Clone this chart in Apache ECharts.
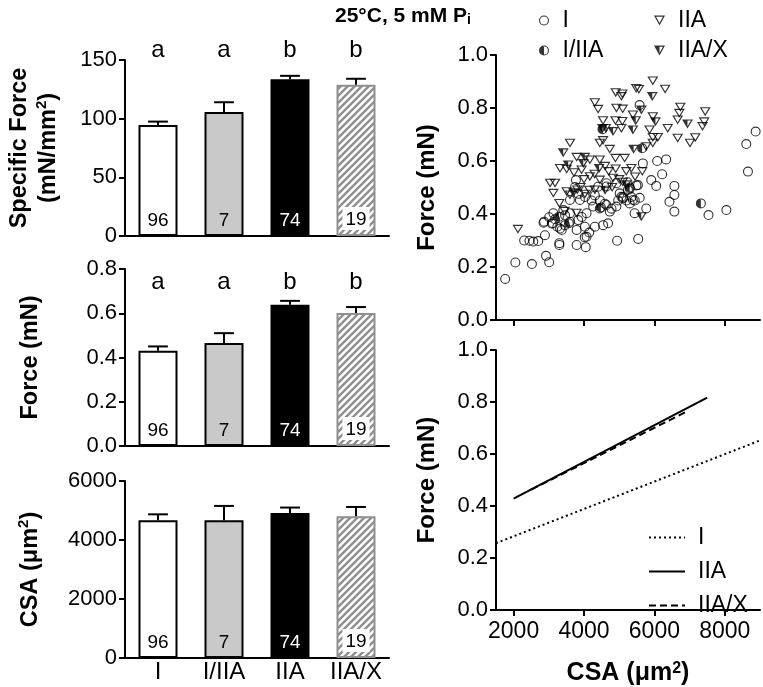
<!DOCTYPE html>
<html>
<head>
<meta charset="utf-8">
<title>force vs fibre type</title>
<script src="https://cdn.jsdelivr.net/npm/echarts@6.0.0/dist/echarts.min.js"></script>
<style>
html,body{margin:0;padding:0;background:#fff;}
#chart{width:763px;height:687px;}
</style>
</head>
<body>
<div id="chart"></div>
<script>
// bar panels
var fibreTypes = ['I','I/IIA','IIA','IIA/X'];
var nFibres = [96,7,74,19];
var sfMean = [94.5,105.7,133.5,129];
var sfSem = [3,8.3,3,5];
var sfSig = ['a','a','b','b'];
var forceMean = [0.431,0.465,0.638,0.601];
var forceSem = [0.019,0.045,0.018,0.027];
var forceSig = ['a','a','b','b'];
var csaMean = [4670,4670,4915,4805];
var csaSem = [200,485,185,315];

// scatter panel [CSA, force]
var ptsI = [
	[1760,0.155],[2050,0.217],[2520,0.211],[2920,0.242],[3010,0.218],[2300,0.300],[2450,0.299],[2560,0.296],
	[2700,0.298],[2890,0.320],[2850,0.367],[3300,0.290],[3300,0.283],[3790,0.283],[4050,0.275],[4020,0.312],
	[4150,0.330],[4940,0.299],[5540,0.306],[2867,0.371],[3009,0.388],[3113,0.365],[3178,0.380],[3243,0.352],
	[3367,0.340],[3460,0.358],[3602,0.371],[3602,0.403],[3791,0.340],[3836,0.377],[4025,0.352],[4073,0.314],
	[4308,0.352],[4542,0.358],[4684,0.365],[4073,0.403],[4260,0.428],[4449,0.421],[4638,0.434],[4732,0.409],
	[4920,0.428],[5062,0.465],[3771,0.528],[4401,0.503],[4638,0.516],[4920,0.516],[5014,0.478],[3602,0.453],
	[3884,0.453],[3413,0.415],[3130,0.403],[5532,0.509],[6051,0.506],[6568,0.506],[6568,0.472],[6427,0.446],
	[6568,0.409],[5390,0.453],[5768,0.421],[5438,0.403],[5107,0.459],[7537,0.396],[8045,0.415],[5249,0.491],
	[5297,0.440],[8876,0.711],[8610,0.664],[8658,0.560],[6333,0.606],[6079,0.600],[5672,0.591],[6220,0.550],
	[5910,0.528],[5579,0.811],[3745,0.502],[3840,0.476],[4028,0.464],[4217,0.451],[4311,0.470],[4452,0.451],
	[4594,0.439],[4782,0.420],[4641,0.504],[4971,0.451],[5112,0.464],[5206,0.451],[5348,0.464],[5443,0.451],
	[5584,0.461],[5300,0.495],[5489,0.508],[5235,0.520],[3084,0.364],[3462,0.395],[3934,0.389],[3320,0.345]
];
var ptsIIIA = [[3290,0.390],[3570,0.365],[4480,0.425],[4525,0.720],[5650,0.648],[7320,0.440],[5300,0.500]];
var ptsIIA = [
	[2124,0.342],[3130,0.478],[3178,0.516],[3508,0.484],[3602,0.472],[3808,0.491],[4025,0.475],[4308,0.491],
	[3790,0.403],[3319,0.572],[3508,0.569],[3715,0.556],[3932,0.566],[4167,0.604],[4449,0.604],[3602,0.667],
	[4449,0.667],[4542,0.677],[4732,0.644],[4893,0.610],[3791,0.614],[4167,0.541],[4449,0.528],[4825,0.535],
	[4308,0.820],[4401,0.795],[4901,0.858],[5062,0.843],[4921,0.799],[4542,0.752],[4893,0.752],[5062,0.723],
	[3037,0.516],[5955,0.902],[6305,0.871],[5485,0.874],[5560,0.870],[5090,0.853],[6737,0.803],[6709,0.780],
	[7443,0.786],[7415,0.748],[7367,0.730],[6661,0.755],[6378,0.723],[6661,0.686],[7011,0.667],[7161,0.688],
	[5955,0.767],[5390,0.774],[5100,0.796],[5090,0.749],[5862,0.717],[5955,0.689],[6097,0.689],[5955,0.667],
	[5768,0.654],[5155,0.610],[5345,0.572],[5655,0.560],[4600,0.580],[4700,0.560],[4300,0.550],[4000,0.530],
	[4900,0.570],[5200,0.560],[5000,0.530],[3900,0.500],[4150,0.490],[5100,0.520],[4800,0.500],[3450,0.410],
	[3300,0.440],[5450,0.540]
];
var ptsIIAX = [
	[5940,0.843],[5630,0.792],[5470,0.752],[6030,0.748],[6940,0.740],[5390,0.717],[5410,0.644],[4525,0.723],
	[4620,0.723],[4825,0.711],[3410,0.631],[4025,0.614],[3980,0.591],[3550,0.585],[4430,0.572],[5627,0.390],
	[4600,0.490],[5200,0.510],[3700,0.480]
];

// regression lines
var fitI = [[1500,0.257],[9000,0.652]];
var fitIIA = [[2000,0.428],[7500,0.817]];
var fitIIAX = [[2500,0.463],[6900,0.762]];
var csaTicks = [2000,4000,6000,8000];

var FONT = '"Liberation Sans", Arial, sans-serif';

var ringCircle = 'path://M10,0 A10,10 0 1 1 10,20 A10,10 0 1 1 10,0 Z M10,2.2 A7.8,7.8 0 1 0 10,17.8 A7.8,7.8 0 1 0 10,2.2 Z';
var halfCircle = ringCircle + ' M10,20 A10,10 0 0 1 10,0 Z';
var ringTri = 'path://M0,0 L20,0 L10,18 Z M3.74,2.2 L10,13.47 L16.26,2.2 Z';
var halfTri = ringTri + ' M0,0 L10,0 L10,18 Z';

function hatch(){
	var c = document.createElement('canvas');
	c.width = 7; c.height = 7;
	var ctx = c.getContext('2d');
	ctx.fillStyle = '#fff';
	ctx.fillRect(0,0,7,7);
	ctx.strokeStyle = '#8f8f8f';
	ctx.lineWidth = 2.4;
	ctx.beginPath();
	ctx.moveTo(0,7); ctx.lineTo(7,0);
	ctx.moveTo(-3.5,3.5); ctx.lineTo(3.5,-3.5);
	ctx.moveTo(3.5,10.5); ctx.lineTo(10.5,3.5);
	ctx.stroke();
	return c;
}

var barStyles = [
	{color:'#fff', borderColor:'#000', borderWidth:2},
	{color:'#c9c9c9', borderColor:'#000', borderWidth:2},
	{color:'#000', borderColor:'#000', borderWidth:2},
	{color:{image:hatch(), repeat:'repeat'}, borderColor:'#8f8f8f', borderWidth:2}
];
var countLabels = [
	{color:'#000'},
	{color:'#000'},
	{color:'#fff'},
	{color:'#000', backgroundColor:'#fff', padding:[3,3,1,3]}
];

var blackLine = {show:true, lineStyle:{color:'#000', width:2}};
var blackTick = {show:true, length:6, lineStyle:{color:'#000', width:2}};

function barSeries(idx, means){
	return {
		type:'bar', xAxisIndex:idx*2, yAxisIndex:idx, barWidth:39,
		data: means.map(function(v,i){
			return {value:v, itemStyle:barStyles[i], label:countLabels[i]};
		}),
		label:{
			show:true, position:'insideBottom', distance:6, fontSize:19, fontFamily:FONT,
			formatter:function(p){ return nFibres[p.dataIndex]; }
		}
	};
}

function errSeries(idx, means, sems){
	return {
		type:'custom', xAxisIndex:idx*2, yAxisIndex:idx, z:3,
		data: means.map(function(v,i){ return [i, v, v+sems[i]]; }),
		encode:{x:0, y:[1,2]},
		renderItem:function(params, api){
			var p0 = api.coord([api.value(0), api.value(1)]);
			var p1 = api.coord([api.value(0), api.value(2)]);
			var half = api.size([1,0])[0]*0.15;
			var st = {stroke:'#000', lineWidth:2};
			return {type:'group', children:[
				{type:'line', shape:{x1:p0[0], y1:p0[1], x2:p1[0], y2:p1[1]}, style:st},
				{type:'line', shape:{x1:p1[0]-half, y1:p1[1], x2:p1[0]+half, y2:p1[1]}, style:st}
			]};
		}
	};
}

function catAxis(grid, showLabels){
	return {
		gridIndex:grid, type:'category', data:fibreTypes,
		axisLine:blackLine, axisTick:{show:false},
		axisLabel:{show:showLabels, interval:0, hideOverlap:false, color:'#000', fontSize:24, fontFamily:FONT, margin:2}
	};
}

function sigAxis(grid, sig, inside, margin){
	return {
		gridIndex:grid, type:'category', position:'top', data:fibreTypes,
		axisLine:{show:false}, axisTick:{show:false},
		axisLabel:{inside:inside, interval:0, margin:margin, color:'#000', fontSize:24, fontFamily:FONT,
			formatter:function(v,i){ return sig[i]; }}
	};
}

function nameRich(size){
	return {
		t:{fontSize:size, fontWeight:'bold', fontFamily:FONT, color:'#000'},
		s:{fontSize:Math.round(size*0.62), fontWeight:'bold', fontFamily:FONT, color:'#000', verticalAlign:'top'}
	};
}

function valAxis(grid, min, max, step, digits, name, gap, nameSize){
	return {
		gridIndex:grid, type:'value', min:min, max:max, interval:step,
		axisLine:blackLine, axisTick:blackTick, splitLine:{show:false},
		axisLabel:{color:'#000', fontSize:22, fontFamily:FONT, margin:8,
			formatter:function(v){ return v.toFixed(digits); }},
		name:name, nameLocation:'middle', nameRotate:90, nameGap:gap,
		nameTextStyle:{rich:nameRich(nameSize), lineHeight:29}
	};
}

var chart = echarts.init(document.getElementById('chart'));
var option = {
	animation:false,
	backgroundColor:'#fff',
	title:{
		text:'{b|25°C, 5 mM P}{sub|i}', left:330, top:1,
		textStyle:{fontSize:21, fontWeight:'bold', fontFamily:FONT, color:'#000', rich:{
			b:{fontSize:21, fontWeight:'bold', fontFamily:FONT, color:'#000'},
			sub:{fontSize:14, fontWeight:'bold', fontFamily:FONT, color:'#000', verticalAlign:'bottom'}
		}}
	},
	grid:[
		{left:125, top:60, width:264, height:176},
		{left:125, top:269, width:264, height:177},
		{left:125, top:481, width:264, height:177},
		{left:496, top:55, width:264, height:265},
		{left:496, top:350, width:264, height:265}
	],
	legend:[
		{data:['I','I/IIA'], orient:'vertical', left:534, top:4, itemWidth:11, itemHeight:10, itemGap:7,
			selectedMode:false, textStyle:{fontSize:23, fontFamily:FONT, color:'#000', padding:[0,0,0,8]}},
		{data:['IIA','IIA/X'], orient:'vertical', left:649, top:4, itemWidth:11, itemHeight:10, itemGap:7,
			selectedMode:false, textStyle:{fontSize:23, fontFamily:FONT, color:'#000', padding:[0,0,0,8]}},
		{data:['I fit','IIA fit','IIA/X fit'], orient:'vertical', left:643, top:521, itemWidth:36, itemHeight:12,
			itemGap:11, selectedMode:false, itemStyle:{opacity:0},
			formatter:function(n){ return n.replace(' fit',''); },
			textStyle:{fontSize:23, fontFamily:FONT, color:'#000', padding:[0,0,0,8]}}
	],
	xAxis:[
		catAxis(0,false), sigAxis(0,sfSig,false,-2),
		catAxis(1,false), sigAxis(1,forceSig,true,1),
		catAxis(2,true),
		{gridIndex:3, type:'value', min:1500, max:9000, axisLine:blackLine,
			axisTick:{show:true, length:6, lineStyle:{color:'#000', width:2}, customValues:csaTicks},
			axisLabel:{show:false}, splitLine:{show:false}},
		{gridIndex:4, type:'value', min:1500, max:9000, axisLine:blackLine,
			axisTick:{show:true, length:6, lineStyle:{color:'#000', width:2}, customValues:csaTicks},
			axisLabel:{color:'#000', fontSize:23, fontFamily:FONT, margin:10, customValues:csaTicks,
				formatter:function(v){ return String(v); }},
			splitLine:{show:false},
			name:'{t|CSA (μm}{s|2}{t|)}', nameLocation:'middle', nameGap:51,
			nameTextStyle:{rich:nameRich(25)}}
	],
	yAxis:[
		valAxis(0, 0, 150, 50, 0, '{t|Specific Force}\n{t|(mN/mm}{s|2}{t|)}', 62, 23.5),
		valAxis(1, 0, 0.8, 0.2, 1, '{t|Force (mN)}', 80, 23.5),
		valAxis(2, 0, 6000, 2000, 0, '{t|CSA (μm}{s|2}{t|)}', 80, 23.5),
		valAxis(3, 0, 1, 0.2, 1, '{t|Force (mN)}', 54, 24),
		valAxis(4, 0, 1, 0.2, 1, '{t|Force (mN)}', 54, 24)
	],
	series:[
		barSeries(0, sfMean), errSeries(0, sfMean, sfSem),
		barSeries(1, forceMean), errSeries(1, forceMean, forceSem),
		barSeries(2, csaMean), errSeries(2, csaMean, csaSem),
		{type:'scatter', name:'I', xAxisIndex:5, yAxisIndex:3, symbol:ringCircle, symbolSize:10,
			itemStyle:{color:'#000'}, data:ptsI},
		{type:'scatter', name:'I/IIA', xAxisIndex:5, yAxisIndex:3, symbol:halfCircle, symbolSize:10,
			itemStyle:{color:'#000'}, data:ptsIIIA},
		{type:'scatter', name:'IIA', xAxisIndex:5, yAxisIndex:3, symbol:ringTri, symbolSize:[11,9],
			itemStyle:{color:'#000'}, data:ptsIIA},
		{type:'scatter', name:'IIA/X', xAxisIndex:5, yAxisIndex:3, symbol:halfTri, symbolSize:[11,9],
			itemStyle:{color:'#000'}, data:ptsIIAX},
		{type:'line', name:'I fit', xAxisIndex:6, yAxisIndex:4, symbol:'none', data:fitI,
			itemStyle:{color:'#000'}, lineStyle:{color:'#000', width:2, type:[2,3]}},
		{type:'line', name:'IIA fit', xAxisIndex:6, yAxisIndex:4, symbol:'none', data:fitIIA,
			itemStyle:{color:'#000'}, lineStyle:{color:'#000', width:2}},
		{type:'line', name:'IIA/X fit', xAxisIndex:6, yAxisIndex:4, symbol:'none', data:fitIIAX,
			itemStyle:{color:'#000'}, lineStyle:{color:'#000', width:2, type:[7,4]}}
	]
};
chart.setOption(option);
</script>
</body>
</html>
